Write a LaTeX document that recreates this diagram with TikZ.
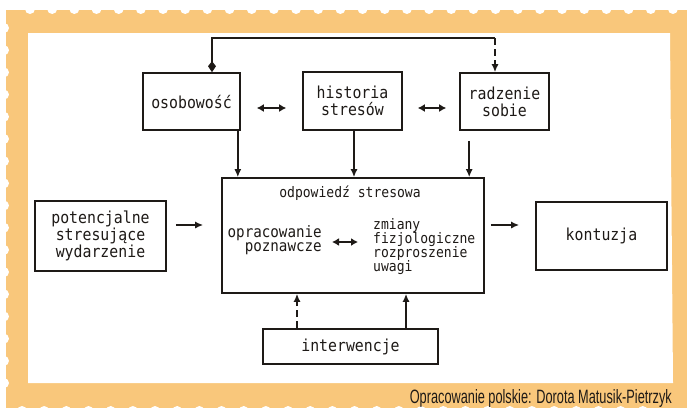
\documentclass[tikz,border=0pt]{standalone}
\usepackage{fontspec}
\usepackage{graphicx}
\setsansfont{Liberation Sans}
\newfontfamily\monof[FakeStretch=0.9]{DejaVu Sans Mono}
\usetikzlibrary{arrows.meta,calc}
\definecolor{stamp}{HTML}{F9C77B}
\definecolor{ink}{HTML}{1E1A17}
\begin{document}
\begin{tikzpicture}[x=1pt,y=-1pt,
  box/.style={draw=ink,line width=1.6pt,inner sep=0pt,align=center,text=ink,
    font=\monof\fontsize{16.5}{17}\selectfont},
  conn/.style={draw=ink,line width=1.8pt},
  tip/.style={-{Latex[length=8pt,width=7pt]}},
  both/.style={line width=2pt,{Latex[length=7pt,width=8pt]}-{Latex[length=7pt,width=8pt]}},
  inner/.style={text=ink,inner sep=0pt,font=\monof\fontsize{14.5}{14.3}\selectfont}]
\useasboundingbox (0,0) rectangle (687,408);
\fill[white] (0,0) rectangle (687,408);
% stamp frame
\fill[stamp] (6,10) rectangle (687,408);
\foreach \k in {0,...,29} \fill[white] (30+22.17*\k,9) circle (5);
\foreach \k in {0,...,16} \fill[white] (4,28+22.19*\k) circle (5);
\foreach \k in {0,...,28} \fill[white] (22+22.17*\k,411) circle (5);
\fill[white] (28,33) -- (670,33) -- (673,383) -- (28,383) -- cycle;
\node[anchor=base east,inner sep=0pt,text=ink] (cap) at (672,403)
  {\resizebox{262pt}{14pt}{\sffamily Opracowanie polskie: Dorota Matusik-Pietrzyk}};
% boxes
\node[box,minimum width=97pt,minimum height=57pt] (osob) at (191.5,101.5) {osobowość};
\node[box,minimum width=99pt,minimum height=58pt] (hist) at (352.5,101) {historia\\stresów};
\node[box,minimum width=89pt,minimum height=57pt] (rad) at (504.5,101.5) {radzenie\\sobie};
\node[box,minimum width=262pt,minimum height=115pt] (main) at (353,235.5) {};
\node[box,minimum width=131pt,minimum height=70pt] (pot) at (100.5,236) {potencjalne\\stresujące\\wydarzenie};
\node[box,minimum width=131pt,minimum height=68pt] (kont) at (601.5,236) {kontuzja};
\node[box,minimum width=175pt,minimum height=35pt] (interw) at (350.5,346.5) {interwencje};
% inner texts
\node[inner] (title) at (350,193) {odpowiedź stresowa};
\node[inner,anchor=east,align=right,font=\monof\fontsize{15.8}{14.5}\selectfont] (opr) at (322,240) {opracowanie\\poznawcze};
\node[inner,anchor=west,align=left] (zmi) at (373,246.5) {zmiany\\fizjologiczne\\rozproszenie\\uwagi};
% top connector
\coordinate (tl) at (212,38);
\coordinate (tr) at (495,38);
\draw[conn,-{Kite[length=11pt,width=8pt,inset=5pt]}] (tr) -- (tl) -- (tl |- osob.north);
\draw[conn,dash pattern=on 7pt off 4pt,tip] (tr) -- (tr |- rad.north);
% down arrows
\draw[conn,tip] ([xshift=-3pt]osob.south east) -- ([xshift=-3pt]osob.south east |- main.north);
\draw[conn,tip] ([xshift=1.5pt]hist.south) -- ([xshift=1.5pt]hist.south |- main.north);
\draw[conn,tip] ([xshift=10pt,yshift=-10pt]rad.south west) -- ([xshift=10pt]rad.south west |- main.north);
% horizontal arrows
\draw[conn,tip] ([xshift=9pt,yshift=11pt]pot.east) -- ([xshift=-18pt,yshift=11pt]pot.east -| main.west);
\draw[conn,tip] ([xshift=6pt,yshift=10.5pt]main.east) -- ([xshift=-16pt,yshift=10.5pt]main.east -| kont.west);
\draw[conn,both] ([xshift=16pt,yshift=-6.5pt]osob.east) -- ([xshift=-16pt,yshift=-6.5pt]osob.east -| hist.west);
\draw[conn,both] ([xshift=15pt,yshift=-7pt]hist.east) -- ([xshift=-13pt,yshift=-7pt]hist.east -| rad.west);
\draw[conn,both] ([xshift=10pt,yshift=-2pt]opr.east) -- ([xshift=-15pt,yshift=-2pt]opr.east -| zmi.west);
% up arrows from interventions
\draw[conn,dash pattern=on 7pt off 4pt,tip] ([xshift=-53.5pt]interw.north) -- ([xshift=-53.5pt]interw.north |- main.south);
\draw[conn,tip] ([xshift=55.5pt]interw.north) -- ([xshift=55.5pt]interw.north |- main.south);
\end{tikzpicture}
\end{document}
